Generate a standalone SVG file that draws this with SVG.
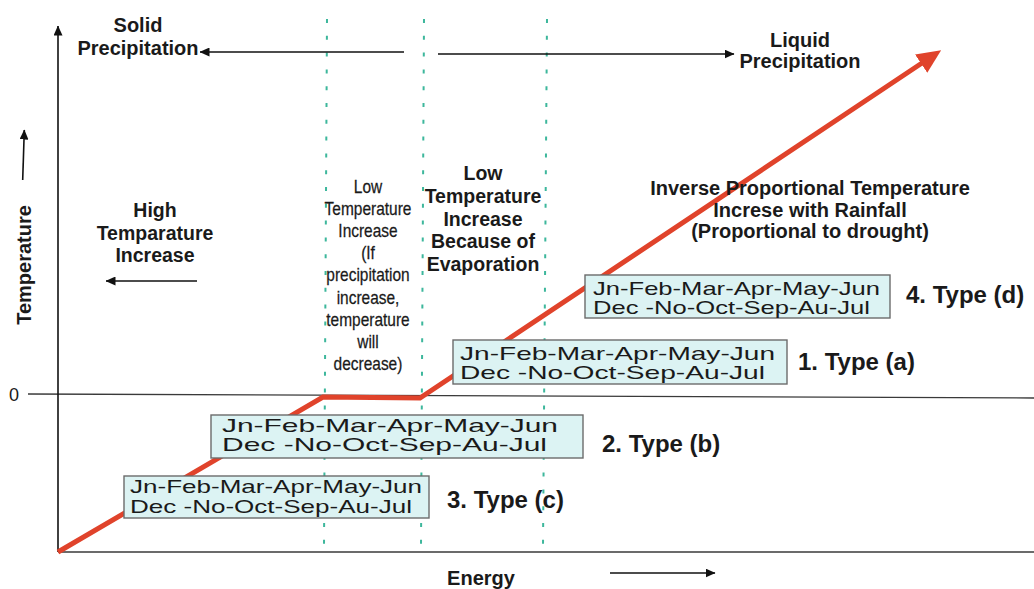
<svg xmlns="http://www.w3.org/2000/svg" width="1034" height="589" viewBox="0 0 1034 589">
<style>
  text { font-family: "Liberation Sans", Arial, sans-serif; fill: #1a1a1a; }
  .b { font-weight: bold; font-size: 19.5px; text-anchor: middle; }
  .top { font-weight: bold; font-size: 20px; text-anchor: middle; }
  .nar { font-size: 18px; text-anchor: middle; stroke: #1a1a1a; stroke-width: 0.25; }
  .box rect { fill: #dcf3f3; stroke: #6b6b6b; stroke-width: 1.4; }
  .box text.m { font-size: 19px; }
  .box text.type { font-weight: bold; font-size: 24px; }
  .ax { stroke: #3a3a3a; stroke-width: 1.3; fill: none; }
  .arr { stroke: #111; stroke-width: 1.6; fill: none; marker-end: url(#ah); }
  .dot { stroke: #3db79c; stroke-width: 2; stroke-dasharray: 4 12.8; fill: none; }
</style>
<defs>
  <marker id="ah" viewBox="0 0 10 9" refX="9.5" refY="4.5" markerWidth="10" markerHeight="9" orient="auto" markerUnits="userSpaceOnUse">
    <path d="M0,0 L10,4.5 L0,9 z" fill="#111"/>
  </marker>
  <marker id="rh" viewBox="0 0 24 22" refX="1" refY="11" markerWidth="24" markerHeight="22" orient="auto" markerUnits="userSpaceOnUse">
    <path d="M0,0 L24,11 L0,22 z" fill="#e0432b"/>
  </marker>
</defs>
<rect width="1034" height="589" fill="#ffffff"/>

<g id="axes">
  <line class="ax" x1="58" y1="552" x2="1034" y2="552"/>
  <line class="ax" x1="28" y1="394" x2="1034" y2="398" stroke="#555"/>
  <text x="14" y="401" font-size="18" text-anchor="middle">0</text>
  <text class="b" transform="translate(31 265) rotate(-90)" x="0" y="0" style="font-size:20px">Temperature</text>
  <text class="top" x="481" y="585">Energy</text>
</g>

<g id="dividers">
  <line class="dot" x1="327" y1="19" x2="324" y2="546"/>
  <line class="dot" x1="424" y1="19" x2="421" y2="546"/>
  <line class="dot" x1="547" y1="19" x2="543" y2="546"/>
</g>

<g id="connectors">
  <line class="arr" x1="58" y1="552" x2="58" y2="26"/>
  <line class="arr" x1="22.7" y1="180" x2="24.3" y2="130"/>
  <line class="arr" x1="404" y1="52" x2="200" y2="52"/>
  <line class="arr" x1="438" y1="54" x2="734" y2="54"/>
  <line class="arr" x1="197" y1="281" x2="106" y2="281"/>
  <line class="arr" x1="610" y1="573" x2="715" y2="573"/>
  <polyline points="58,552 323,397 420,398 922,63" fill="none" stroke="#e0432b" stroke-width="5" stroke-linejoin="miter" marker-end="url(#rh)"/>
</g>

<g id="solid-precipitation">
  <text class="top" x="138" y="32">Solid</text>
  <text class="top" x="138" y="55">Precipitation</text>
</g>

<g id="liquid-precipitation">
  <text class="top" x="800" y="47">Liquid</text>
  <text class="top" x="800" y="68">Precipitation</text>
</g>

<g id="high-temperature">
  <text class="b" x="155" y="217">High</text>
  <text class="b" x="155" y="239.5">Temparature</text>
  <text class="b" x="155" y="262">Increase</text>
</g>

<g id="low-temperature-precip" transform="translate(368 0) scale(0.86 1)">
  <text class="nar" x="0" y="193">Low</text>
  <text class="nar" x="0" y="215">Temperature</text>
  <text class="nar" x="0" y="237">Increase</text>
  <text class="nar" x="0" y="259">(If</text>
  <text class="nar" x="0" y="281">precipitation</text>
  <text class="nar" x="0" y="304">increase,</text>
  <text class="nar" x="0" y="326">temperature</text>
  <text class="nar" x="0" y="348">will</text>
  <text class="nar" x="0" y="370">decrease)</text>
</g>

<g id="low-temperature-evap">
  <text class="b" x="483" y="180">Low</text>
  <text class="b" x="483" y="203">Temperature</text>
  <text class="b" x="483" y="225.5">Increase</text>
  <text class="b" x="483" y="248">Because of</text>
  <text class="b" x="483" y="271">Evaporation</text>
</g>

<g id="inverse-proportional">
  <text class="top" x="810" y="195">Inverse Proportional Temperature</text>
  <text class="top" x="810" y="217">Increse with Rainfall</text>
  <text class="top" x="810" y="238">(Proportional to drought)</text>
</g>

<g id="type-d" class="box">
  <rect x="585" y="275" width="305" height="43"/>
  <text class="m" x="593" y="295" textLength="287" lengthAdjust="spacingAndGlyphs">Jn-Feb-Mar-Apr-May-Jun</text>
  <text class="m" x="593" y="314" textLength="277" lengthAdjust="spacingAndGlyphs">Dec -No-Oct-Sep-Au-Jul</text>
  <text class="type" x="906" y="303">4. Type (d)</text>
</g>

<g id="type-a" class="box">
  <rect x="453" y="340" width="334" height="44"/>
  <text class="m" x="460" y="360" textLength="315" lengthAdjust="spacingAndGlyphs">Jn-Feb-Mar-Apr-May-Jun</text>
  <text class="m" x="460" y="379" textLength="305" lengthAdjust="spacingAndGlyphs">Dec -No-Oct-Sep-Au-Jul</text>
  <text class="type" x="798" y="370">1. Type (a)</text>
</g>

<g id="type-b" class="box">
  <rect x="211" y="415" width="372" height="43"/>
  <text class="m" x="222" y="432" textLength="336" lengthAdjust="spacingAndGlyphs">Jn-Feb-Mar-Apr-May-Jun</text>
  <text class="m" x="222" y="451" textLength="325" lengthAdjust="spacingAndGlyphs">Dec -No-Oct-Sep-Au-Jul</text>
  <text class="type" x="602" y="452">2. Type (b)</text>
</g>

<g id="type-c" class="box">
  <rect x="124" y="476" width="305" height="42"/>
  <text class="m" x="130" y="493" textLength="292" lengthAdjust="spacingAndGlyphs">Jn-Feb-Mar-Apr-May-Jun</text>
  <text class="m" x="130" y="513" textLength="282" lengthAdjust="spacingAndGlyphs">Dec -No-Oct-Sep-Au-Jul</text>
  <text class="type" x="447" y="508">3. Type (c)</text>
</g>
</svg>
